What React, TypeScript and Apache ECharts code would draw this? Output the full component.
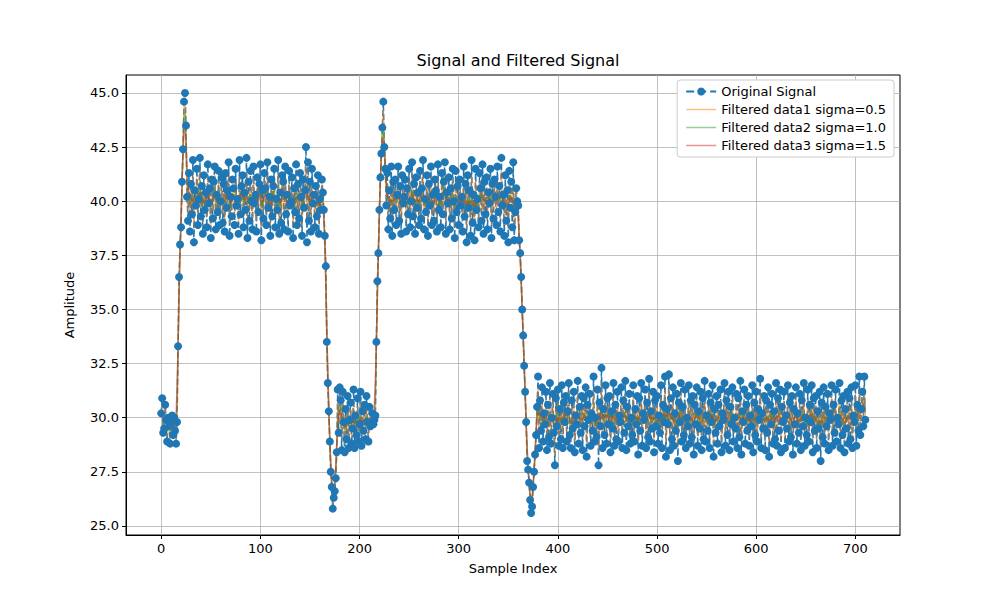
import React, { useEffect, useRef } from 'react';
import * as echarts from 'echarts';

// signal segments
const startLow = [30.2, 30.9, 29.3, 29.5, 30.6, 29.9, 28.9, 30.0, 29.6, 28.8, 29.8, 30.1, 29.2, 30.0, 29.4, 28.8, 29.8];
const rise1 = [33.3, 36.5, 38.0, 38.8, 40.9, 42.4, 44.6, 45.0, 43.5];
const plateau1 = [
    40.2, 39.1, 41.3, 38.6, 40.8, 39.4, 41.9, 38.1, 40.5, 39.8,
    41.5, 38.9, 40.1, 42.0, 39.3, 40.7, 38.5, 41.2, 39.6, 40.4,
    38.8, 41.7, 39.9, 40.6, 38.3, 41.0, 39.2, 40.9, 41.6, 38.7,
    40.3, 39.5, 41.4, 38.9, 40.0, 41.1, 39.0, 40.8, 38.6, 41.3,
    39.7, 40.5, 41.8, 38.4, 40.2, 39.3, 41.0, 40.6, 38.9, 41.5,
    39.8, 40.1, 38.5, 41.9, 39.4, 40.7, 41.2, 38.8, 40.4, 39.6,
    42.0, 38.3, 40.9, 39.1, 41.4, 40.0, 38.7, 41.6, 39.9, 40.3,
    38.6, 41.1, 39.5, 40.8, 41.7, 38.2, 40.5, 39.2, 41.3, 40.6,
    38.9, 41.8, 39.7, 40.2, 38.4, 41.0, 39.3, 40.7, 41.5, 38.8,
    40.1, 39.6, 41.9, 38.5, 40.4, 39.0, 41.2, 40.9, 38.7, 41.6,
    39.4, 40.3, 38.6, 41.4, 39.8, 40.0, 41.1, 38.3, 40.6, 39.5,
    41.7, 38.9, 40.8, 39.2, 41.3, 40.2, 38.4, 41.0, 39.7, 40.5,
    42.5, 38.1, 41.8, 39.1, 40.9, 38.6, 41.5, 39.9, 40.3, 38.8,
    40.7, 39.3, 41.2, 38.5, 40.1, 39.6, 41.0,
];
const drop1 = [40.4, 39.6, 38.4, 37.0, 33.5, 31.6, 30.3, 28.9, 27.5, 26.8, 25.8, 26.3, 26.6, 27.2];
const midLow = [
    28.4, 31.3, 29.3, 31.4, 30.8, 28.5, 31.2, 29.8, 28.4, 30.4,
    29.0, 31.0, 28.6, 29.9, 30.7, 28.8, 29.5, 31.3, 28.6, 30.1,
    29.2, 30.9, 28.9, 29.7, 31.2, 28.7, 30.3, 29.4, 30.6, 29.0,
    31.0, 29.8, 28.9, 30.5, 29.6, 29.8, 30.2, 29.7, 29.9, 30.1,
];
const rise2 = [33.5, 36.3, 37.6, 39.6, 41.1, 42.2, 43.4, 44.6, 42.5, 41.5];
const plateau2 = [
    39.8, 41.3, 38.7, 40.5, 39.2, 41.6, 38.4, 40.9, 39.6, 41.0,
    38.9, 40.3, 41.6, 39.1, 40.7, 38.5, 41.2, 39.9, 40.2, 41.0,
    38.6, 40.6, 39.4, 41.5, 38.8, 40.0, 41.8, 39.3, 40.8, 38.5,
    41.1, 39.7, 40.4, 38.9, 41.4, 39.2, 40.6, 41.9, 38.7, 40.1,
    39.5, 41.2, 38.4, 40.8, 39.8, 41.6, 38.9, 40.3, 39.1, 41.0,
    40.5, 38.6, 41.7, 39.6, 40.2, 38.8, 41.3, 39.4, 40.9, 41.8,
    38.5, 40.4, 39.9, 41.1, 38.7, 40.6, 39.2, 41.5, 40.0, 38.3,
    41.4, 39.5, 40.7, 38.9, 41.0, 39.8, 40.2, 38.6, 41.6, 39.3,
    40.8, 38.1, 41.2, 39.7, 40.5, 38.4, 41.9, 39.0, 40.3, 38.2,
    41.5, 39.6, 40.1, 38.8, 41.3, 40.6, 39.1, 41.7, 38.5, 40.9,
    39.4, 41.1, 38.7, 40.4, 39.9, 41.5, 38.3, 40.8, 39.2, 41.0,
    40.2, 38.9, 41.6, 39.5, 40.7, 38.6, 42.0, 39.8, 40.3, 38.4,
    41.2, 39.1, 40.5, 38.1, 41.4, 39.7, 40.9, 38.8, 41.8, 38.2,
    39.5, 40.6,
];
const drop2 = [40.0, 39.8, 38.2, 37.6, 36.5, 35.0, 33.8, 32.4, 31.2, 29.8, 28.0, 27.6, 27.0, 26.2, 25.6, 25.9, 26.8, 27.5, 28.3];
const endLow = [
    29.2, 30.5, 31.9, 28.6, 30.8, 29.4, 31.4, 28.9, 30.2, 29.7,
    31.2, 28.5, 30.6, 29.1, 31.6, 28.8, 30.0, 31.1, 29.3, 27.8,
    30.9, 29.6, 31.3, 28.7, 30.4, 29.0, 31.5, 28.6, 30.7, 29.8,
    31.0, 28.9, 30.3, 31.6, 29.2, 28.6, 30.8, 29.5, 31.2, 28.4,
    30.1, 29.7, 31.7, 28.8, 30.5, 29.3, 31.0, 28.5, 30.9, 29.6,
    31.4, 28.2, 30.6, 29.9, 31.1, 28.7, 30.2, 29.4, 31.9, 28.9,
    30.0, 29.1, 31.3, 27.8, 30.7, 29.6, 32.3, 28.6, 30.4, 29.2,
    31.5, 28.8, 30.9, 29.7, 31.0, 28.4, 30.3, 29.5, 31.6, 28.7,
    30.6, 29.0, 31.2, 28.9, 30.1, 29.8, 31.4, 28.6, 30.8, 29.3,
    31.7, 28.5, 30.5, 29.6, 31.1, 28.8, 30.0, 29.2, 31.5, 28.9,
    30.4, 29.7, 31.0, 28.3, 30.9, 29.4, 31.6, 28.7, 30.2, 29.9,
    31.3, 28.6, 30.7, 29.1, 31.8, 28.9, 30.3, 29.5, 31.2, 28.4,
    30.8, 29.6, 31.0, 28.8, 30.1, 29.3, 31.5, 28.6, 30.6, 29.8,
    31.9, 28.2, 30.4, 29.7, 32.0, 28.5, 30.9, 29.0, 31.4, 28.7,
    30.2, 29.4, 31.1, 28.0, 30.7, 29.8, 31.6, 28.9, 30.5, 29.2,
    31.3, 28.6, 30.0, 29.6, 31.5, 28.8, 30.8, 29.1, 31.0, 28.3,
    30.6, 29.7, 31.4, 28.7, 30.3, 29.5, 31.2, 28.5, 30.9, 29.0,
    31.7, 28.9, 30.1, 29.4, 31.1, 28.6, 30.7, 29.8, 31.5, 28.2,
    30.4, 29.3, 31.0, 28.8, 30.6, 29.6, 31.3, 28.4, 30.2, 29.9,
    31.6, 28.7, 30.8, 29.2, 31.2, 28.5, 30.5, 29.7, 31.4, 28.9,
    30.0, 29.5, 31.1, 28.6, 30.9, 29.1, 31.7, 28.3, 30.3, 29.8,
    31.3, 28.8, 30.6, 29.4, 31.0, 28.7, 30.1, 29.6, 31.5, 28.4,
    30.7, 29.2, 31.2, 28.9, 30.4, 29.9, 31.8, 28.6, 30.2, 29.5,
    31.0, 28.5, 30.8, 29.3, 31.4, 28.2, 30.6, 29.7, 31.1, 28.8,
    30.3, 29.0, 31.6, 28.7, 30.9, 29.4, 31.3, 28.4, 30.5, 29.8,
    31.2, 28.6, 30.1, 29.5, 31.5, 28.9, 30.7, 29.1, 31.0, 28.3,
    30.4, 29.7, 31.4, 28.8, 30.2, 29.3, 31.1, 28.5, 30.8, 29.6,
    31.6, 28.7, 30.0, 29.2, 31.3, 28.9, 30.6, 29.8, 31.5, 28.4,
    30.9, 29.4, 31.0, 28.6, 30.3, 29.5, 31.2, 28.0, 30.7, 29.1,
    31.4, 28.8, 30.5, 29.6, 31.1, 28.5, 30.2, 29.9, 31.5, 28.7,
    30.6, 29.3, 31.3, 28.9, 30.0, 29.7, 31.6, 28.6, 30.8, 29.2,
    31.0, 28.4, 30.4, 29.5, 31.2, 28.8, 30.9, 29.0, 31.4, 28.6,
    30.1, 29.8, 31.5, 28.7, 30.6, 29.4, 31.9, 29.2, 30.4, 31.2,
    29.6, 31.9, 29.9,
];

const signal = [...startLow, ...rise1, ...plateau1, ...drop1, ...midLow, ...rise2, ...plateau2, ...drop2, ...endLow];
const sigmas = [0.5, 1.0, 1.5];
const filterColors = ['#ff7f0e', '#2ca02c', '#d62728'];
const xTicks = [0, 100, 200, 300, 400, 500, 600, 700];
const yTicks = [25, 27.5, 30, 32.5, 35, 37.5, 40, 42.5, 45];

// gaussian smoothing of the signal (reflect mode, truncate 4)
function gaussFilter(d: number[], sigma: number): number[] {
    const r = Math.round(4 * sigma);
    const w: number[] = [];
    let s = 0;
    for (let k = -r; k <= r; k++) { const v = Math.exp(-(k * k) / (2 * sigma * sigma)); w.push(v); s += v; }
    const n = d.length;
    const at = (i: number) => { if (i < 0) return d[-i - 1]; if (i >= n) return d[2 * n - i - 1]; return d[i]; };
    return d.map((_, i) => { let acc = 0; for (let k = -r; k <= r; k++) acc += (w[k + r] / s) * at(i + k); return acc; });
}

const App: React.FC = () => {
    const chartRef = useRef<HTMLDivElement>(null);

    useEffect(() => {
        if (!chartRef.current) return;
        const chart = echarts.init(chartRef.current, undefined, { renderer: 'svg' });
        const font = 'DejaVu Sans';
        const gridLine = { show: true, lineStyle: { color: '#b0b0b0', width: 0.8 } };
        const filterNames = sigmas.map((s, i) => `Filtered data${i + 1} sigma=${s.toFixed(1)}`);

        chart.setOption({
            animation: false,
            textStyle: { fontFamily: font },
            title: {
                text: 'Signal and Filtered Signal', left: 513, top: 47, textAlign: 'center',
                textStyle: { fontSize: 16, fontWeight: 'normal', color: '#000', fontFamily: font },
            },
            legend: {
                orient: 'vertical', right: 106, top: 80, itemGap: 5, itemWidth: 30, itemHeight: 10,
                backgroundColor: '#fff', borderColor: '#ccc', borderWidth: 1, borderRadius: 3, padding: [5, 8],
                textStyle: { fontSize: 13, color: '#000', fontFamily: font },
                data: [
                    'Original Signal',
                    ...filterNames.map((n, i) => ({
                        name: n, icon: 'path://M0,0H30V1.5H0Z',
                        itemStyle: { color: filterColors[i], opacity: 0.5 },
                    })),
                ],
            },
            grid: { left: 126, right: 100, top: 75, bottom: 65, show: true, borderColor: '#000', borderWidth: 1 },
            xAxis: {
                type: 'value', min: -35.5, max: 745, name: 'Sample Index', nameLocation: 'middle', nameGap: 27,
                nameTextStyle: { fontSize: 13, color: '#000' },
                axisLine: { show: true, onZero: false, lineStyle: { color: '#000' } },
                axisTick: { show: true, customValues: xTicks, length: 4, lineStyle: { color: '#000' } },
                axisLabel: { customValues: xTicks, fontSize: 13, color: '#000', margin: 7 },
                splitLine: gridLine,
            },
            yAxis: {
                type: 'value', min: 24.58, max: 45.83, name: 'Amplitude', nameLocation: 'middle', nameGap: 50,
                nameTextStyle: { fontSize: 13, color: '#000' },
                axisLine: { show: true, onZero: false, lineStyle: { color: '#000' } },
                axisTick: { show: true, customValues: yTicks, length: 4, lineStyle: { color: '#000' } },
                axisLabel: { customValues: yTicks, fontSize: 13, color: '#000', margin: 7, formatter: (v: number) => v.toFixed(1) },
                splitLine: gridLine,
            },
            series: [
                {
                    name: 'Original Signal', type: 'line', data: signal.map((v, i) => [i, v]),
                    symbol: 'circle', symbolSize: 8, color: '#1f77b4',
                    lineStyle: { type: 'dashed', width: 1.5, color: '#1f77b4' },
                    itemStyle: { color: '#1f77b4' },
                },
                ...sigmas.map((s, i) => ({
                    name: filterNames[i], type: 'line',
                    data: gaussFilter(signal, s).map((v, j) => [j, v]),
                    showSymbol: false, symbol: 'none', color: filterColors[i],
                    lineStyle: { width: 1.5, color: filterColors[i], opacity: 0.5 },
                })),
            ],
        });

        return () => chart.dispose();
    }, []);

    return <div ref={chartRef} style={{ position: 'absolute', left: 0, top: 0, width: 1000, height: 600, background: '#fff' }} />;
};

export default App;
